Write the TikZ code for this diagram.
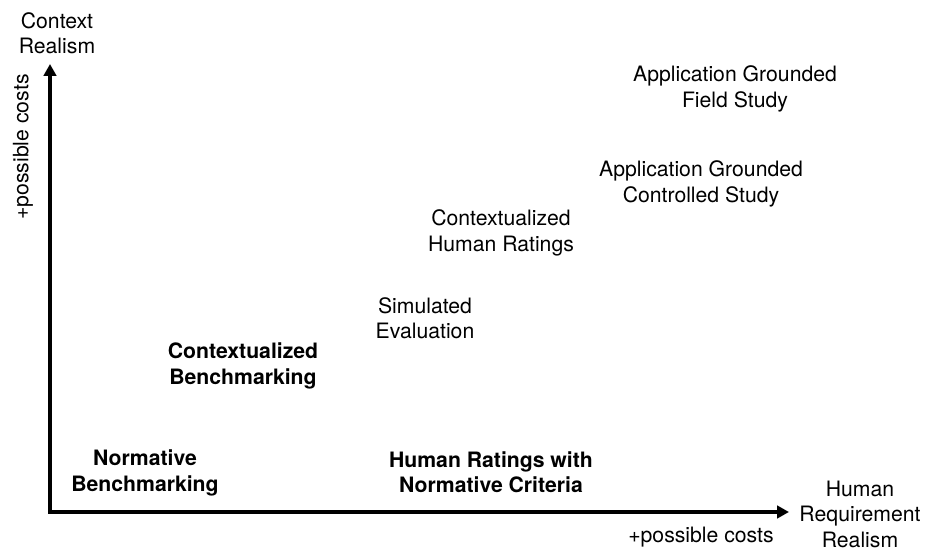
\documentclass[tikz,border=0pt]{standalone}
\usepackage{fontspec}
\setmainfont{TeX Gyre Heros}
\usetikzlibrary{arrows.meta}
\begin{document}
\begin{tikzpicture}[x=1pt,y=-1pt,
  lbl/.style={align=center,inner sep=0pt,font=\fontsize{21.2}{25.5}\selectfont},
  blbl/.style={lbl,font=\fontsize{21.2}{25.5}\selectfont\bfseries},
  axis/.style={line width=3.2pt,{Triangle[length=12pt,width=12.5pt]}-{Triangle[length=12pt,width=12.5pt]}}]
\useasboundingbox (0,0) rectangle (930,553);
\coordinate (origin) at (50,512);
\coordinate (ytip) at (50,64);
\coordinate (xtip) at (789,512);
\draw[axis] (ytip) -- (origin) -- (xtip);
\node[lbl] (ylab) at (57,33) {Context\\Realism};
\node[lbl] (xlab) at (860,514) {Human\\Requirement\\Realism};
\node[lbl] (ycost) at (23,147) [rotate=90] {+possible costs};
\node[lbl] (xcost) at (701,537) {+possible costs};
\node[lbl] (field) at (735,89) {Application Grounded\\Field Study};
\node[lbl] (ctrl) at (701,184) {Application Grounded\\Controlled Study};
\node[lbl] (ctxhum) at (501,233) {Contextualized\\Human Ratings};
\node[lbl] (sim) at (425,318) {Simulated\\Evaluation};
\node[blbl] (ctxbench) at (243,366) {Contextualized\\Benchmarking};
\node[blbl] (normbench) at (145,473) {Normative\\Benchmarking};
\node[blbl] (humrat) at (491,472) {Human Ratings with\\Normative Criteria};
\end{tikzpicture}
\end{document}
